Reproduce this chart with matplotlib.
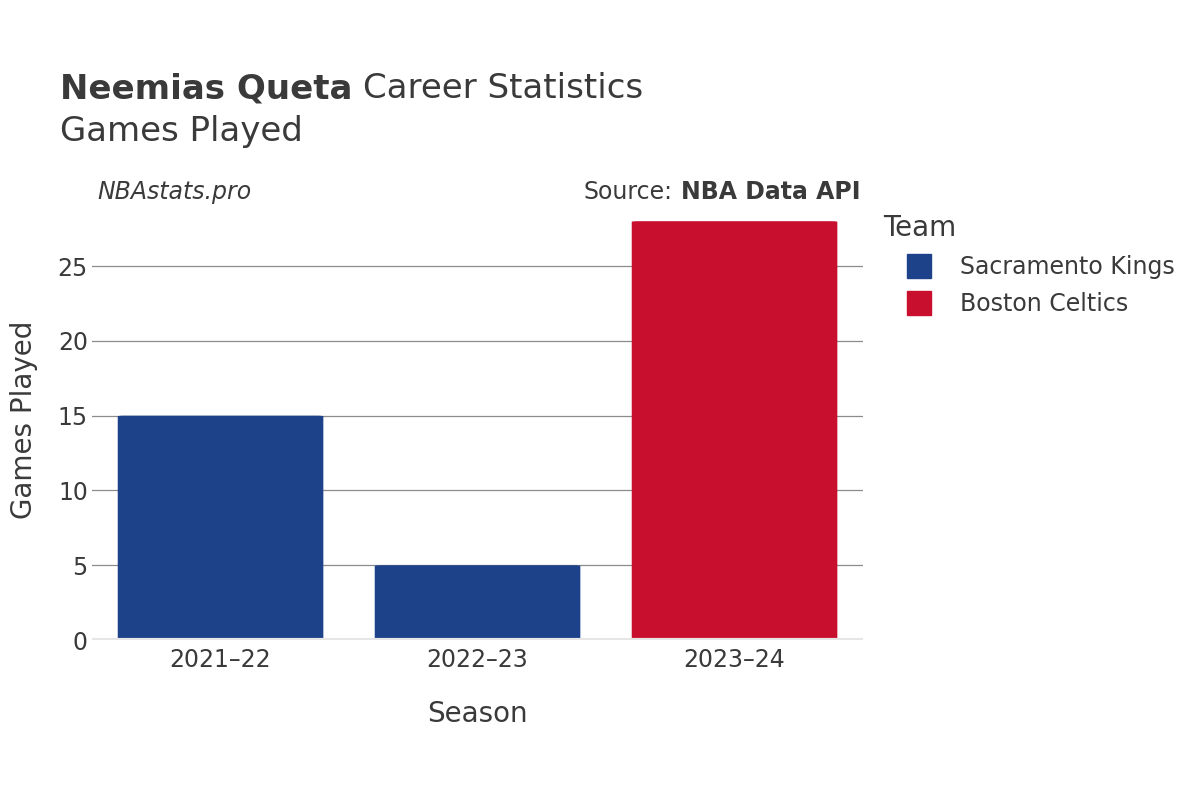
import matplotlib.pyplot as plt
from matplotlib.lines import Line2D
from matplotlib.patches import FancyBboxPatch

seasons = ["2021\u201322", "2022\u201323", "2023\u201324"]
games = [15, 5, 28]
teams = ["Sacramento Kings", "Sacramento Kings", "Boston Celtics"]
team_colors = {"Sacramento Kings": "#1D428A", "Boston Celtics": "#C8102E"}

text_color = "#3a3a3a"
plt.rcParams["font.family"] = ["DejaVu Sans"]

fig = plt.figure(figsize=(12, 8), dpi=100)
ax = fig.add_axes([0.0767, 0.2, 0.6425, 0.551])

x = range(len(seasons))
colors = [team_colors[t] for t in teams]
bars = ax.bar(x, games, width=0.8, color=colors, zorder=3)

ax.set_xlim(-0.5, 2.5)
ax.set_ylim(0, 29.47)

# swap plain bars for bars with slightly rounded corners
aspect = (771 / 3) / (551 * 8 / 29.47)
for b in bars:
    rb = FancyBboxPatch((b.get_x(), 0), b.get_width(), b.get_height(),
                        boxstyle="round,pad=0,rounding_size=0.025",
                        mutation_aspect=aspect, facecolor=b.get_facecolor(),
                        edgecolor="none", zorder=3)
    b.remove()
    ax.add_patch(rb)

ax.set_yticks([0, 5, 10, 15, 20, 25])
ax.set_xticks(list(x))
ax.set_xticklabels(seasons)
ax.tick_params(axis="both", length=0, labelsize=17, colors=text_color)
ax.tick_params(axis="y", pad=3)
ax.tick_params(axis="x", pad=6)
ax.grid(axis="y", color="#8c8c8c", linewidth=0.9, zorder=0)
ax.axhline(0, color="#e6e6e6", linewidth=3, zorder=4)
for s in ax.spines.values():
    s.set_visible(False)

ax.set_xlabel("Season", fontsize=20, color=text_color, labelpad=20)
ax.set_ylabel("Games Played", fontsize=20, color=text_color, labelpad=14)

fig.canvas.draw()
renderer = fig.canvas.get_renderer()
inv = fig.transFigure.inverted()

t1 = fig.text(0.05, 0.889, "Neemias Queta", fontsize=24.5, fontweight="bold",
              color=text_color, va="center")
ext = inv.transform(t1.get_window_extent(renderer))
fig.text(ext[1][0] + 0.009, 0.889, "Career Statistics", fontsize=24.5,
         color=text_color, va="center")
fig.text(0.05, 0.835, "Games Played", fontsize=24.5, color=text_color, va="center")

fig.text(0.081, 0.76, "NBAstats.pro", fontsize=17, style="italic", color=text_color, va="center")
src = fig.text(0.717, 0.76, "NBA Data API", fontsize=17, fontweight="bold", color=text_color,
               va="center", ha="right")
ext = inv.transform(src.get_window_extent(renderer))
fig.text(ext[0][0] - 0.007, 0.76, "Source:", fontsize=17, color=text_color,
         va="center", ha="right")

handles = [Line2D([0], [0], marker="s", linestyle="", markersize=17,
                  markerfacecolor=team_colors[t], markeredgecolor=team_colors[t])
           for t in ["Sacramento Kings", "Boston Celtics"]]
leg = fig.legend(handles, ["Sacramento Kings", "Boston Celtics"], loc="upper left",
                 bbox_to_anchor=(0.718, 0.759), frameon=False, fontsize=17,
                 title="Team", title_fontsize=20, labelspacing=0.55, handletextpad=0.17,
                 handlelength=3.1, alignment="left")
for t in leg.get_texts():
    t.set_color(text_color)
leg.get_title().set_color(text_color)

fig.savefig("out.png", dpi=100, facecolor="white")
